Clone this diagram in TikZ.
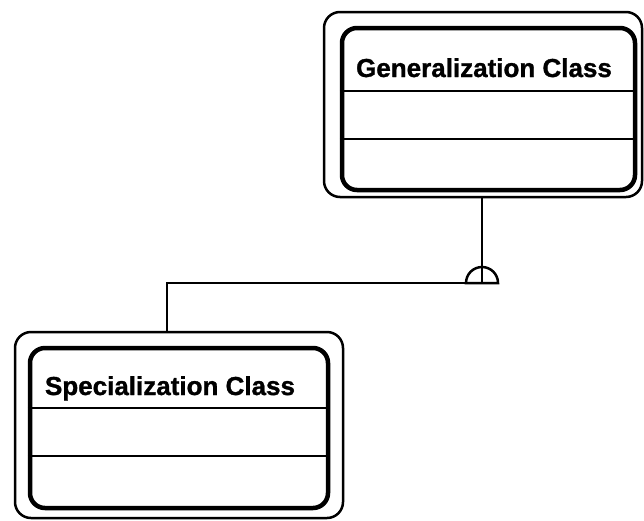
\documentclass[tikz,border=0pt]{standalone}
\usepackage{fontspec}
\setmainfont{Liberation Sans}
\newfontfamily\labelfont[FakeBold=1.2]{Liberation Sans}
\begin{document}
\begin{tikzpicture}[x=1pt,y=-1pt,
  outerbox/.style={draw, line width=2.5pt, rounded corners=16pt, inner sep=0pt},
  innerbox/.style={draw, line width=4.5pt, rounded corners=15pt, inner sep=0pt},
  divider/.style={line width=2.5pt},
  conn/.style={line width=2.5pt},
  label/.style={font=\labelfont\fontsize{26}{30}\selectfont\bfseries, anchor=base, inner sep=0pt}]
\useasboundingbox (0,0) rectangle (644,520);
% Generalization class
\node[outerbox, minimum width=318pt, minimum height=185pt] (genout) at (483,104.5) {};
\node[innerbox, minimum width=293pt, minimum height=162pt] (genin) at (488.5,109) {};
\node[label] (gentxt) at (484,77) {Generalization Class};
\draw[divider] ([yshift=-65pt]genin.north west) -- ([yshift=-65pt]genin.north east);
\draw[divider] ([yshift=-113pt]genin.north west) -- ([yshift=-113pt]genin.north east);
% Specialization class
\node[outerbox, minimum width=328pt, minimum height=186pt] (specout) at (179,425) {};
\node[innerbox, minimum width=298pt, minimum height=160pt] (specin) at (179,428) {};
\node[label] (spectxt) at (170,395) {Specialization Class};
\draw[divider] ([yshift=-62pt]specin.north west) -- ([yshift=-62pt]specin.north east);
\draw[divider] ([yshift=-110pt]specin.north west) -- ([yshift=-110pt]specin.north east);
% Generalization connector
\coordinate (gs) at (482,283);
\coordinate (gl) at (466,283);
\coordinate (bend) at (167,283);
\draw[conn] (genout.south -| gs) -- (gs);
\draw[conn] (gl) arc[start angle=180, end angle=0, radius=16pt] -- cycle;
\draw[conn] (gl) -- (bend) -- (bend |- specout.north);
\end{tikzpicture}
\end{document}
